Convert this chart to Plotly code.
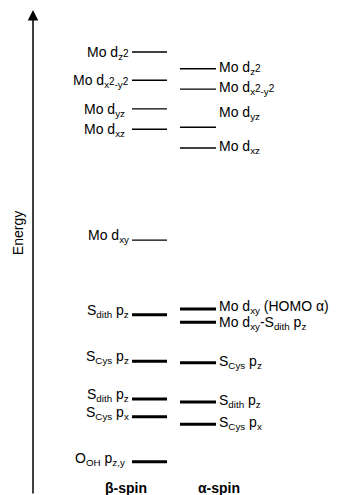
import plotly.graph_objects as go

S2 = "<span style='font-size:10px'>2</span>"

# Energy levels (arbitrary units)
beta_labels = [
    "Mo d<sub>z</sub>" + S2,
    "Mo d<sub>x</sub>" + S2 + "<sub>-y</sub>" + S2,
    "Mo d<sub>yz</sub> ",
    "Mo d<sub>xz</sub> ",
    "Mo d<sub>xy</sub>",
    "S<sub>dith</sub> p<sub>z</sub>",
    "S<sub>Cys</sub> p<sub>z</sub>",
    "S<sub>dith</sub> p<sub>z</sub>",
    "S<sub>Cys</sub> p<sub>x</sub>",
    "O<sub>OH</sub> p<sub>z,y</sub> ",
]
beta_energy = [8.95, 8.38, 7.80, 7.39, 5.15, 3.64, 2.70, 1.94, 1.58, 0.67]
beta_occupied = [False, False, False, False, False, True, True, True, True, True]

alpha_labels = [
    "Mo d<sub>z</sub>" + S2,
    "Mo d<sub>x</sub>" + S2 + "<sub>-y</sub>" + S2,
    "Mo d<sub>yz</sub>",
    "Mo d<sub>xz</sub>",
    "Mo d<sub>xy</sub> (HOMO α)",
    "Mo d<sub>xy</sub>-S<sub>dith</sub> p<sub>z</sub>",
    "S<sub>Cys</sub> p<sub>z</sub>",
    "S<sub>dith</sub> p<sub>z</sub>",
    "S<sub>Cys</sub> p<sub>x</sub>",
]
alpha_energy = [8.61, 8.20, 7.43, 7.01, 3.76, 3.49, 2.67, 1.88, 1.43]
alpha_occupied = [False, False, False, False, True, True, True, True, True]

column_titles = ["β-spin", "α-spin"]
axis_title = "Energy"

# Layout geometry (x in pixels, y in energy units) and label offsets (pixels)
BETA_X = (132, 167)
ALPHA_X = (180, 216)
BETA_DY = [-1, -1, -1, -1, 4, 4, 4, 4, 4, 3]
ALPHA_DY = [1, 1, 14, 1, 2, -1, 1, 1, 1]
FONT = "Liberation Sans, Arial, sans-serif"
FS = 14

fig = go.Figure()
annotations = []

def add_levels(energies, occupied, labels, offsets, xr, side):
    for e, occ, lab, dy in zip(energies, occupied, labels, offsets):
        fig.add_trace(go.Scatter(
            x=[xr[0], xr[1]], y=[e, e], mode="lines",
            line=dict(color="black", width=3 if occ else 1.4),
            hoverinfo="skip", showlegend=False))
        if side == "left":
            annotations.append(dict(
                x=xr[0] - 1, y=e, xref="x", yref="y", text=lab,
                showarrow=False, xanchor="right", yanchor="middle",
                yshift=dy, font=dict(family=FONT, size=FS, color="black")))
        else:
            annotations.append(dict(
                x=xr[1] + 1, y=e, xref="x", yref="y", text=lab,
                showarrow=False, xanchor="left", yanchor="middle",
                yshift=dy, font=dict(family=FONT, size=FS, color="black")))

add_levels(beta_energy, beta_occupied, beta_labels, BETA_DY, BETA_X, "left")
add_levels(alpha_energy, alpha_occupied, alpha_labels, ALPHA_DY, ALPHA_X, "right")

# column titles
annotations.append(dict(x=126, y=0.0, xref="x", yref="y", text="<b>" + column_titles[0] + "</b>",
                        showarrow=False, xanchor="center", yanchor="bottom", yshift=-3,
                        font=dict(family=FONT, size=FS, color="black")))
annotations.append(dict(x=219, y=0.0, xref="x", yref="y", text="<b>" + column_titles[1] + "</b>",
                        showarrow=False, xanchor="center", yanchor="bottom", yshift=-3,
                        font=dict(family=FONT, size=FS, color="black")))

# energy axis arrow
annotations.append(dict(x=33, y=9.80, ax=33, ay=0.0, xref="x", yref="y", axref="x", ayref="y",
                        text="", showarrow=True, arrowhead=2, arrowsize=1.4, arrowwidth=1.5,
                        arrowcolor="black"))
annotations.append(dict(x=18, y=5.29, xref="x", yref="y", text=axis_title, textangle=-90,
                        showarrow=False, xanchor="center", yanchor="middle",
                        font=dict(family=FONT, size=FS, color="black")))

fig.update_layout(
    width=340, height=495,
    margin=dict(l=0, r=0, t=0, b=0),
    paper_bgcolor="white", plot_bgcolor="white",
    xaxis=dict(range=[0, 340], visible=False, fixedrange=True),
    yaxis=dict(range=[0, 10], visible=False, fixedrange=True),
    annotations=annotations,
    showlegend=False,
)

fig.write_html("out.html")
